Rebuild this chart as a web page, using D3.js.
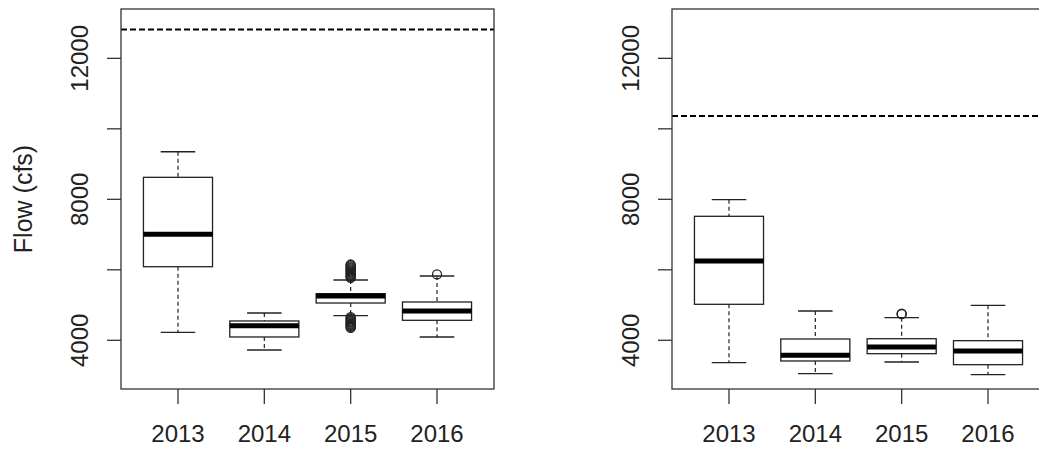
<!DOCTYPE html>
<html lang="en">
<head>
  <meta charset="UTF-8">
  <title>Flow boxplots</title>
  <script src="https://d3js.org/d3.v7.min.js"></script>
  <style>
    body { margin: 0; background: #fff; }
    svg { display: block; font-family: "Liberation Sans", Arial, sans-serif; }
    .frame { fill: none; stroke: #333; stroke-width: 1.3; }
    .tick-line { stroke: #333; stroke-width: 1.3; }
    .tick-label { font-size: 24px; fill: #222; }
    .box { fill: #fff; stroke: #222; stroke-width: 1.3; }
    .median { stroke: #000; stroke-width: 5; }
    .whisker { stroke: #222; stroke-width: 1.2; stroke-dasharray: 4,3; }
    .cap { stroke: #222; stroke-width: 1.3; }
    .outlier { fill: none; stroke: #222; stroke-width: 1.3; }
    .threshold { stroke: #000; stroke-width: 2; stroke-dasharray: 6,3; }
  </style>
</head>
<body>
<svg width="1039" height="451"></svg>
<script>
  const years = ["2013", "2014", "2015", "2016"];
  const yTicks = [4000, 6000, 8000, 10000, 12000];
  const yTickLabels = [4000, 8000, 12000];

  // left panel
  const leftLowWhisker = [4227, 3725, 4698, 4094];
  const leftQ1 = [6088, 4094, 5058, 4567];
  const leftMedian = [7007, 4414, 5257, 4831];
  const leftQ3 = [8624, 4548, 5322, 5087];
  const leftHighWhisker = [9350, 4774, 5711, 5824];
  const leftOutliers = [
    [],
    [],
    [4350, 4380, 4410, 4440, 4470, 4500, 4530, 4560, 4600, 4630, 4660,
     5770, 5800, 5830, 5860, 5890, 5920, 5950, 5980, 6010, 6040, 6070, 6100, 6130, 6150],
    [5870]
  ];
  const leftThreshold = 12820;

  // right panel
  const rightLowWhisker = [3365, 3052, 3384, 3024];
  const rightQ1 = [5021, 3413, 3620, 3308];
  const rightMedian = [6250, 3574, 3810, 3696];
  const rightQ3 = [7518, 4037, 4045, 3989];
  const rightHighWhisker = [7989, 4831, 4641, 4993];
  const rightOutliers = [[], [], [4740, 4755], []];
  const rightThreshold = 10363;

  const svg = d3.select("svg");
  const plotW = 373, plotTop = 9, plotBottom = 389;

  function panel(left, stats, threshold, yLabel) {
    const x = d3.scalePoint().domain(years).range([left, left + plotW]).padding(0.66);
    const y = d3.scaleLinear().domain([2618, 13400]).range([plotBottom, plotTop]);
    const step = x.step();
    const bw = step * 0.8;
    const g = svg.append("g");

    const data = years.map((yr, i) => ({
      yr, lo: stats.lo[i], q1: stats.q1[i], med: stats.med[i],
      q3: stats.q3[i], hi: stats.hi[i], out: stats.out[i]
    }));

    // dashed reference line
    g.append("line").attr("class", "threshold")
      .attr("x1", left).attr("x2", left + plotW)
      .attr("y1", y(threshold)).attr("y2", y(threshold));

    const b = g.selectAll(".bp").data(data).enter().append("g").attr("class", "bp");

    b.append("line").attr("class", "whisker")
      .attr("x1", d => x(d.yr)).attr("x2", d => x(d.yr))
      .attr("y1", d => y(d.hi)).attr("y2", d => y(d.q3));
    b.append("line").attr("class", "whisker")
      .attr("x1", d => x(d.yr)).attr("x2", d => x(d.yr))
      .attr("y1", d => y(d.q1)).attr("y2", d => y(d.lo));
    b.append("line").attr("class", "cap")
      .attr("x1", d => x(d.yr) - bw / 4).attr("x2", d => x(d.yr) + bw / 4)
      .attr("y1", d => y(d.hi)).attr("y2", d => y(d.hi));
    b.append("line").attr("class", "cap")
      .attr("x1", d => x(d.yr) - bw / 4).attr("x2", d => x(d.yr) + bw / 4)
      .attr("y1", d => y(d.lo)).attr("y2", d => y(d.lo));
    b.append("rect").attr("class", "box")
      .attr("x", d => x(d.yr) - bw / 2).attr("width", bw)
      .attr("y", d => y(d.q3)).attr("height", d => y(d.q1) - y(d.q3));
    b.append("line").attr("class", "median")
      .attr("x1", d => x(d.yr) - bw / 2).attr("x2", d => x(d.yr) + bw / 2)
      .attr("y1", d => y(d.med)).attr("y2", d => y(d.med));
    b.selectAll(".outlier").data(d => d.out.map(v => ({ yr: d.yr, v })))
      .enter().append("circle").attr("class", "outlier")
      .attr("cx", d => x(d.yr)).attr("cy", d => y(d.v)).attr("r", 4.5);

    // frame
    g.append("rect").attr("class", "frame")
      .attr("x", left).attr("y", plotTop).attr("width", plotW).attr("height", plotBottom - plotTop);

    // y axis ticks and labels
    g.selectAll(".yt").data(yTicks).enter().append("line").attr("class", "tick-line")
      .attr("x1", left - 14).attr("x2", left)
      .attr("y1", d => y(d)).attr("y2", d => y(d));
    g.selectAll(".yl").data(yTickLabels).enter().append("text").attr("class", "tick-label")
      .attr("text-anchor", "middle")
      .attr("transform", d => `translate(${left - 33},${y(d)}) rotate(-90)`)
      .text(d => d);

    // x axis ticks and labels
    g.selectAll(".xt").data(years).enter().append("line").attr("class", "tick-line")
      .attr("x1", d => x(d)).attr("x2", d => x(d))
      .attr("y1", plotBottom).attr("y2", plotBottom + 15);
    g.selectAll(".xl").data(years).enter().append("text").attr("class", "tick-label")
      .attr("text-anchor", "middle")
      .attr("x", d => x(d)).attr("y", 442)
      .text(d => d);

    if (yLabel) {
      g.append("text").attr("class", "tick-label")
        .style("font-size", "25px")
        .attr("text-anchor", "middle")
        .attr("transform", `translate(32,${(plotTop + plotBottom) / 2}) rotate(-90)`)
        .text(yLabel);
    }
  }

  panel(121, { lo: leftLowWhisker, q1: leftQ1, med: leftMedian, q3: leftQ3, hi: leftHighWhisker, out: leftOutliers },
        leftThreshold, "Flow (cfs)");
  panel(672, { lo: rightLowWhisker, q1: rightQ1, med: rightMedian, q3: rightQ3, hi: rightHighWhisker, out: rightOutliers },
        rightThreshold, null);
</script>
</body>
</html>
